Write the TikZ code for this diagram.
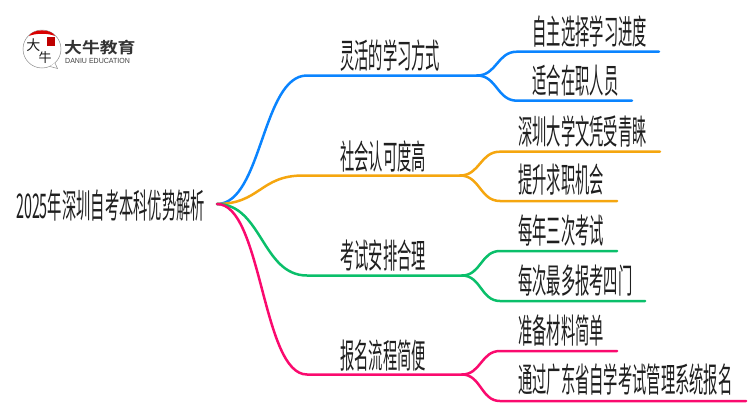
\documentclass[tikz,border=0pt]{standalone}
\usepackage{fontspec}
\newfontfamily\cjk[FakeStretch=0.42]{Noto Sans CJK SC}
\newfontfamily\cjklogo[FakeStretch=1.15]{Noto Sans CJK SC Bold}
\newfontfamily\cjkpen{Noto Sans CJK SC}
\newfontfamily\latlogo[FakeStretch=0.95]{Liberation Sans}
\definecolor{myblue}{HTML}{0A84FF}
\definecolor{myorange}{HTML}{F5A60F}
\definecolor{mygreen}{HTML}{0ABF6A}
\definecolor{mypink}{HTML}{FA0A6E}
\definecolor{myink}{HTML}{1F1F1F}
\tikzset{
  lab/.style={anchor=west,inner sep=0pt,text=myink,font=\cjk\fontsize{34}{34}\selectfont},
  wire/.style={line width=2.5pt,line cap=round}
}
\begin{document}
\begin{tikzpicture}[x=1pt,y=-1pt]
   \useasboundingbox (0,0) rectangle (750,410);
   % logo
   \draw[line width=0.5pt,black!45,fill=white] (42,49) circle (19);
   \draw[line width=0.5pt,black!45,fill=white] (50,66.5)--(57.5,68.5)--(55,63);
   \fill[red!85!black] (29,36) .. controls (33,28.5) and (51,28.5) .. (55,36) .. controls (48,33) and (36,33) .. cycle;
   \fill[red!75!black] (46.5,37) rectangle (55,46);
   \node[inner sep=0pt,text=black!90] (logoda) at (33.5,45) {\cjkpen\fontsize{14}{14}\selectfont 大};
   \node[inner sep=0pt,text=black!90] (logoniu) at (45,58) {\cjkpen\fontsize{13}{13}\selectfont 牛};
   \node[anchor=west,inner sep=0pt,text=black!80] (logocn) at (64,48) {\cjklogo\fontsize{15.5}{16}\selectfont 大牛教育};
   \node[anchor=west,inner sep=0pt,text=black!75] (logoen) at (65,60.5) {\latlogo\fontsize{7.4}{8}\selectfont DANIU EDUCATION};
   % texts
   \node[lab] (root) at (16,206) {2025年深圳自考本科优势解析};
   \node[lab] (way) at (340,56) {灵活的学习方式};
   \node[lab] (social) at (340,156) {社会认可度高};
   \node[lab] (exam) at (340,256) {考试安排合理};
   \node[lab] (apply) at (340,356) {报名流程简便};
   \node[lab] (wayone) at (532.5,31) {自主选择学习进度};
   \node[lab] (waytwo) at (532.5,81) {适合在职人员};
   \node[lab] (socialone) at (518,131) {深圳大学文凭受青睐};
   \node[lab] (socialtwo) at (518,180) {提升求职机会};
   \node[lab] (examone) at (518,231) {每年三次考试};
   \node[lab] (examtwo) at (518,281) {每次最多报考四门};
   \node[lab] (applyone) at (518,331) {准备材料简单};
   \node[lab] (applytwo) at (518,380) {通过广东省自学考试管理系统报名};
   % line ends
   \coordinate (rootend) at (217,204);
   \coordinate (waya) at (307,75.5);
   \coordinate (wayb) at (477,75.5);
   \coordinate (socialb) at (460,175.5);
   \coordinate (socialc) at (303,175.5);
   \coordinate (examc) at (307,275.5);
   \coordinate (examb) at (462,275.5);
   \coordinate (applyc) at (307,374.5);
   \coordinate (applyb) at (462,374.5);
   % blue
   \draw[wire,myblue] (rootend) .. controls (262,204) and (262,75.5) .. (waya) -- (wayb);
   \draw[wire,myblue] (wayb) .. controls (497,75.5) and (497,51.7) .. (517,51.7) -- (659,51.7);
   \draw[wire,myblue] (wayb) .. controls (497,75.5) and (497,100.7) .. (517,100.7) -- (632,100.7);
   % orange
   \draw[wire,myorange] (rootend) .. controls (260,204) and (260,175.5) .. (socialc) -- (socialb);
   \draw[wire,myorange] (socialb) .. controls (480,175.5) and (480,151.7) .. (500,151.7) -- (660,151.7);
   \draw[wire,myorange] (socialb) .. controls (480,175.5) and (480,201) .. (500,201) -- (617,201);
   % green
   \draw[wire,mygreen] (rootend) .. controls (262,204) and (262,275.5) .. (examc) -- (examb);
   \draw[wire,mygreen] (examb) .. controls (481,275.5) and (481,251) .. (500,251) -- (617,251);
   \draw[wire,mygreen] (examb) .. controls (481,275.5) and (481,301) .. (500,301) -- (645,301);
   % pink
   \draw[wire,mypink] (rootend) .. controls (262,204) and (262,374.5) .. (applyc) -- (applyb);
   \draw[wire,mypink] (applyb) .. controls (481,374.5) and (481,351) .. (500,351) -- (617,351);
   \draw[wire,mypink] (applyb) .. controls (481,374.5) and (481,401) .. (500,401) -- (746,401);
\end{tikzpicture}
\end{document}
